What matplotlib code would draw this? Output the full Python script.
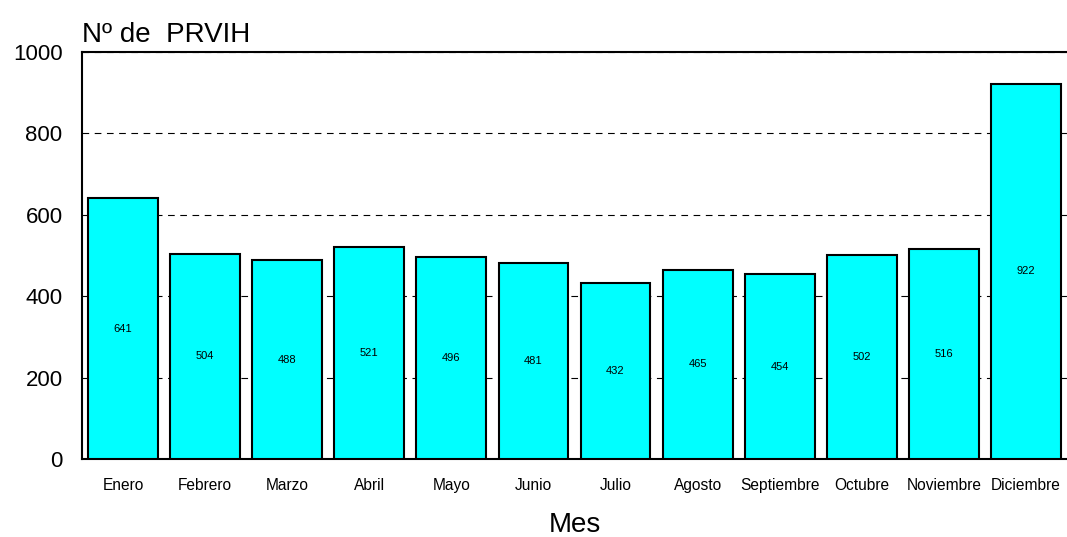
import matplotlib
matplotlib.use("Agg")
import matplotlib.pyplot as plt
import numpy as np

months = ["Enero", "Febrero", "Marzo", "Abril", "Mayo", "Junio", "Julio",
          "Agosto", "Septiembre", "Octubre", "Noviembre", "Diciembre"]
values = [641, 504, 488, 521, 496, 481, 432, 465, 454, 502, 516, 922]
yticks = [0, 200, 400, 600, 800, 1000]

plt.rcParams['font.family'] = ['Liberation Sans', 'DejaVu Sans']

fig = plt.figure(figsize=(10.67, 5.37), dpi=100)
ax = fig.add_axes([82/1067, 1-459/537, (1067-82)/1067, (459-52)/537])

x = np.arange(len(months))
bars = ax.bar(x, values, width=0.85, color="#00FFFF", edgecolor="black",
              linewidth=1.5, zorder=3)
for xi, v in zip(x, values):
    ax.text(xi, v/2, str(v), ha="center", va="center", fontsize=8, zorder=4)

ax.set_xlim(-0.5, len(months)-0.5)
ax.set_ylim(0, 1000)
ax.set_yticks(yticks)
ax.set_yticklabels([str(t) for t in yticks], fontsize=16)
ax.set_xticks(x)
ax.set_xticklabels(months, fontsize=11.2)
ax.tick_params(axis="x", length=0, pad=14)
ax.tick_params(axis="y", length=0, pad=14)
ax.yaxis.grid(True, linestyle=(0, (6, 5)), color="black", linewidth=0.8, zorder=0)
ax.set_axisbelow(True)
for s in ax.spines.values():
    s.set_linewidth(1.5)
ax.spines["right"].set_visible(False)

fig.text(0.5 * (82 + 1067) / 1067, 1-525/537, "Mes", fontsize=20, ha="center", va="center")
fig.text(82/1067, 1-42/537, "Nº de  PRVIH", fontsize=20, ha="left", va="baseline")

fig.savefig("out.png", dpi=100)
